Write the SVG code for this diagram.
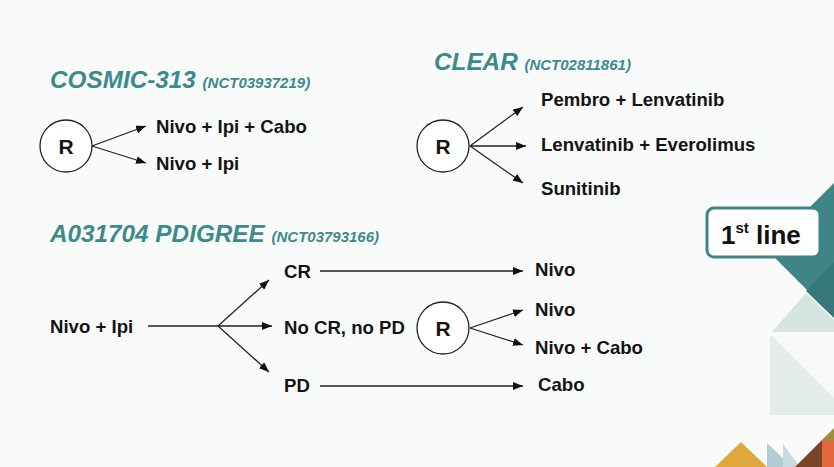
<svg xmlns="http://www.w3.org/2000/svg" width="834" height="467" viewBox="0 0 834 467">
<defs>
<marker id="ah" viewBox="0 0 10 8" refX="10" refY="4" markerWidth="10" markerHeight="8" markerUnits="userSpaceOnUse" orient="auto">
<path d="M0,0 L10,4 L0,8 Z" fill="#111"/>
</marker>
<style>
.t{font-family:"Liberation Sans",Arial,sans-serif;font-weight:bold;fill:#141414;font-size:18.6px}
.h{font-family:"Liberation Sans",Arial,sans-serif;font-weight:bold;font-style:italic;fill:#3c8a8b;font-size:24.3px}
.hs{font-size:15px}
.r{font-family:"Liberation Sans",Arial,sans-serif;font-weight:bold;fill:#141414;font-size:21px}
.c{fill:#fff;stroke:#222;stroke-width:1.3}
.ln{stroke:#222;stroke-width:1.3;fill:none;marker-end:url(#ah)}
.pl{stroke:#222;stroke-width:1.3;fill:none}
</style>
</defs>
<rect x="0" y="0" width="834" height="467" fill="#f8fbf9"/>
<g id="decor">
<polygon points="834,183 767,250 834,317" fill="#3f8587"/>
<polygon points="834,262 806,291 834,318" fill="#36777a"/>
<polygon points="806,293 772,332 834,332 834,320" fill="#d5e3e1"/>
<polygon points="770,336 834,336 834,415 770,415" fill="#e3ece9"/>
<polygon points="772,336 834,336 834,398" fill="#f7f9f8"/>
<polygon points="715,467 741,442 767,467" fill="#e0a83c"/>
<polygon points="767,443 767,467 792,467" fill="#b3ccd2"/>
<polygon points="783,444 783,467 800,467" fill="#c8dade"/>
<polygon points="795,467 822,440 822,467" fill="#7a4426"/>
<polygon points="822,440 834,440 834,467 822,467" fill="#e0673a"/>
<polygon points="822,440 834,428 834,440" fill="#9a903c"/>
</g>
<g id="connectors">
<line class="ln" x1="92" y1="146" x2="146" y2="126"/>
<line class="ln" x1="92" y1="146" x2="146" y2="163"/>
<line class="ln" x1="470" y1="146" x2="523" y2="107"/>
<line class="ln" x1="470" y1="146" x2="526" y2="146"/>
<line class="ln" x1="470" y1="146" x2="523" y2="183"/>
<line class="pl" x1="148" y1="326" x2="218" y2="326"/>
<line class="ln" x1="218" y1="326" x2="269" y2="280"/>
<line class="ln" x1="218" y1="326" x2="272" y2="326"/>
<line class="ln" x1="218" y1="326" x2="269" y2="372"/>
<line class="ln" x1="320" y1="271" x2="523" y2="271"/>
<line class="ln" x1="320" y1="386" x2="523" y2="386"/>
<line class="ln" x1="470" y1="328" x2="523" y2="310"/>
<line class="ln" x1="470" y1="328" x2="523" y2="345"/>
</g>
<g id="cosmic">
<text class="h" x="50" y="88">COSMIC-313 <tspan class="hs">(NCT03937219)</tspan></text>
</g>
<g id="r1"><circle class="c" cx="66" cy="146" r="26"/><text class="r" x="66" y="153.5" text-anchor="middle">R</text></g>
<g id="cosmic-a"><text class="t" x="156" y="133">Nivo + Ipi + Cabo</text></g>
<g id="cosmic-b"><text class="t" x="156" y="170">Nivo + Ipi</text></g>
<g id="clear">
<text class="h" x="434" y="70">CLEAR <tspan class="hs">(NCT02811861)</tspan></text>
</g>
<g id="r2"><circle class="c" cx="443" cy="146" r="26"/><text class="r" x="443" y="153.5" text-anchor="middle">R</text></g>
<g id="clear-a"><text class="t" x="541" y="106">Pembro + Lenvatinib</text></g>
<g id="clear-b"><text class="t" x="541" y="151">Lenvatinib + Everolimus</text></g>
<g id="clear-c"><text class="t" x="541" y="195">Sunitinib</text></g>
<g id="firstline">
<rect x="707" y="208" width="113" height="49" rx="7" fill="#fff" stroke="#3f8587" stroke-width="3"/>
<text x="721" y="244" font-family="Liberation Sans,Arial,sans-serif" font-weight="bold" font-size="26" fill="#111">1<tspan font-size="15" dy="-11">st</tspan><tspan dy="11"> line</tspan></text>
</g>
<g id="pdigree">
<text class="h" x="50" y="242">A031704 PDIGREE <tspan class="hs">(NCT03793166)</tspan></text>
</g>
<g id="nivoipi"><text class="t" x="50" y="333">Nivo + Ipi</text></g>
<g id="cr"><text class="t" x="284" y="278">CR</text></g>
<g id="nocr"><text class="t" x="284" y="334">No CR, no PD</text></g>
<g id="pd"><text class="t" x="284" y="392">PD</text></g>
<g id="r3"><circle class="c" cx="443" cy="328" r="26"/><text class="r" x="443" y="335.5" text-anchor="middle">R</text></g>
<g id="nivo1"><text class="t" x="535" y="276">Nivo</text></g>
<g id="nivo2"><text class="t" x="535" y="316">Nivo</text></g>
<g id="nivocabo"><text class="t" x="535" y="354">Nivo + Cabo</text></g>
<g id="cabo"><text class="t" x="538" y="391">Cabo</text></g>
</svg>
